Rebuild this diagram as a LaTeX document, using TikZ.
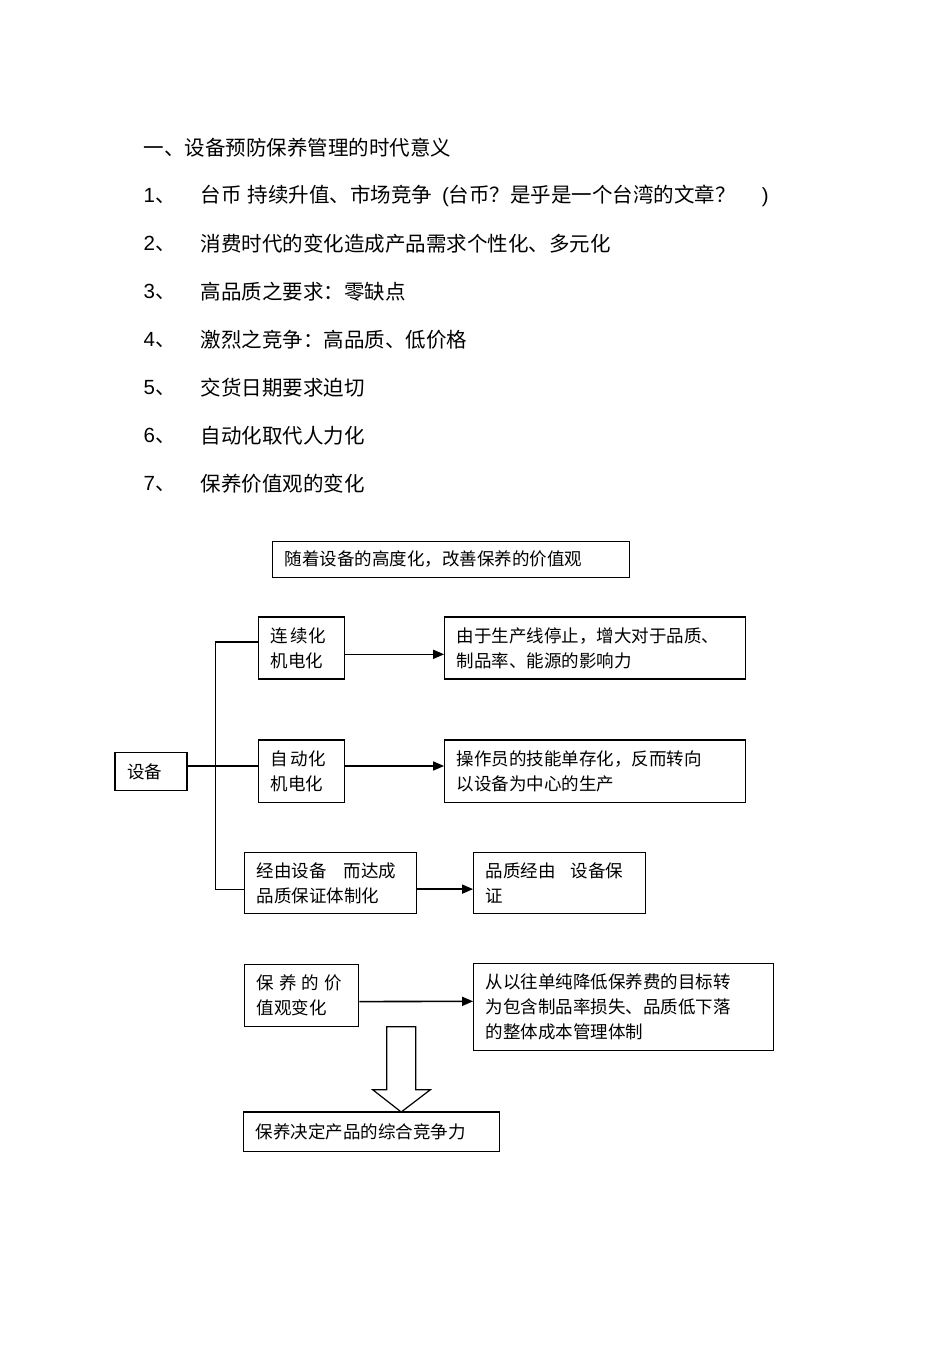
\documentclass[tikz,border=0pt]{standalone}
\usepackage{fontspec}
\setmainfont{Liberation Sans}
\newfontfamily\cjk{Noto Sans CJK SC}
\usetikzlibrary{positioning, arrows.meta}

\begin{document}
\begin{tikzpicture}
	[x=1pt, y=-1pt, on grid, line width=1.2pt,
	 box/.style={draw, align=left, inner xsep=12pt, inner ysep=0pt, font=\cjk\fontsize{17.5}{25}\selectfont},
	 item/.style={anchor=west, inner sep=0pt, font=\cjk\fontsize{20.5}{24}\selectfont},
	 num/.style={anchor=west, inner sep=0pt, font=\fontsize{20.5}{24}\selectfont},
	 line/.style={-{Triangle[length=11pt,width=9pt]}}]
   \useasboundingbox[fill=white] (0,0) rectangle (950,1345);
   % list
   \node[item] (h_0) at (143,148) {一、设备预防保养管理的时代意义};
   \node[num] (n_1) at (143,196) {1{\cjk 、}};
   \node[item] (i_1) at (200,196) {台币\hspace{6pt}持续升值、市场竞争\hspace{10pt}{\rmfamily(}台币？是乎是一个台湾的文章？\hspace{26pt}{\rmfamily)}};
   \node[num] (n_2) at (143,244) {2{\cjk 、}};
   \node[item] (i_2) at (200,244) {消费时代的变化造成产品需求个性化、多元化};
   \node[num] (n_3) at (143,292) {3{\cjk 、}};
   \node[item] (i_3) at (200,292) {高品质之要求：零缺点};
   \node[num] (n_4) at (143,340) {4{\cjk 、}};
   \node[item] (i_4) at (200,340) {激烈之竞争：高品质、低价格};
   \node[num] (n_5) at (143,388) {5{\cjk 、}};
   \node[item] (i_5) at (200,388) {交货日期要求迫切};
   \node[num] (n_6) at (143,436) {6{\cjk 、}};
   \node[item] (i_6) at (200,436) {自动化取代人力化};
   \node[num] (n_7) at (143,484) {7{\cjk 、}};
   \node[item] (i_7) at (200,484) {保养价值观的变化};
   % diagram
   \node[box, text width=48pt, minimum height=38pt] (s) at (151,771.5) {设备};
   \node[box, text width=62pt, minimum height=62pt] (a_2) [right=150.5pt of s] {自\hspace{3pt}动化\\机电化};
   \node[box, text width=62pt, minimum height=62pt] (a_1) [above=123.5pt of a_2] {连\hspace{3pt}续化\\机电化};
   \node[box, text width=277pt, minimum height=62pt] (b_1) [right=293.7pt of a_1] {由于生产线停止，增大对于品质、\\制品率、能源的影响力};
   \node[box, text width=277pt, minimum height=62pt] (b_2) [right=293.7pt of a_2] {操作员的技能单存化，反而转向\\以设备为中心的生产};
   \node[box, text width=148pt, minimum height=61pt] (a_3) [below right=111.6pt and 29.2pt of a_2] {经由设备\hspace{17pt}而达成\\品质保证体制化};
   \node[box, text width=148pt, minimum height=61pt] (b_3) [right=229pt of a_3] {品质经由\hspace{15pt}设备保\\证};
   \node[box, text width=90pt, minimum height=62pt] (a_4) [below left=112pt and 29pt of a_3] {保\hspace{5pt}养\hspace{5pt}的\hspace{5pt}价\\值观变化};
   \node[box, text width=276pt, minimum height=87pt] (b_4) [below right=12pt and 322pt of a_4] {从以往单纯降低保养费的目标转\\为包含制品率损失、品质低下落\\的整体成本管理体制};
   \node[box, text width=232pt, minimum height=39pt] (c) [below right=137pt and 70pt of a_4] {保养决定产品的综合竞争力};
   \node[box, text width=333pt, minimum height=36pt] (t) [above right=212.4pt and 149.7pt of a_2] {随着设备的高度化，改善保养的价值观};
   % heavier top rules
   \draw[line width=2.2pt] (a_2.north west) -- (a_2.north east);
   \draw[line width=2.2pt] (b_2.north west) -- (b_2.north east);
   \draw[line width=2pt] (c.north west) -- (c.north east);
   % connectors
   \draw ([yshift=5.5pt]s.east) -- ([yshift=5.5pt]a_2.west);
   \draw ([yshift=6pt]a_1.west) -| ([xshift=-29pt,yshift=-6pt]a_3.west) -- ([yshift=-6pt]a_3.west);
   \draw[line, line width=1.6pt] ([yshift=-6.3pt]a_1.east) -- ([yshift=-6.3pt]b_1.west);
   \draw[line, line width=1.6pt] ([yshift=5.5pt]a_2.east) -- ([yshift=5.5pt]b_2.west);
   \draw[line, line width=1.6pt] ([yshift=-6pt]a_3.east) -- ([yshift=-6pt]b_3.west);
   \draw[line, line width=1.6pt] ([yshift=-6.5pt]a_4.east) -- ([yshift=5.8pt]b_4.west);
   % hollow arrow
   \draw ([xshift=85pt]a_4.south) -- ([xshift=15pt,yshift=22.3pt]c.north)
      -- ([xshift=1pt,yshift=22.3pt]c.north) -- ([xshift=29.5pt]c.north)
      -- ([xshift=58.7pt,yshift=22.3pt]c.north) -- ([xshift=44pt,yshift=22.3pt]c.north)
      -- ([xshift=114pt]a_4.south) -- cycle;
\end{tikzpicture}
\end{document}
